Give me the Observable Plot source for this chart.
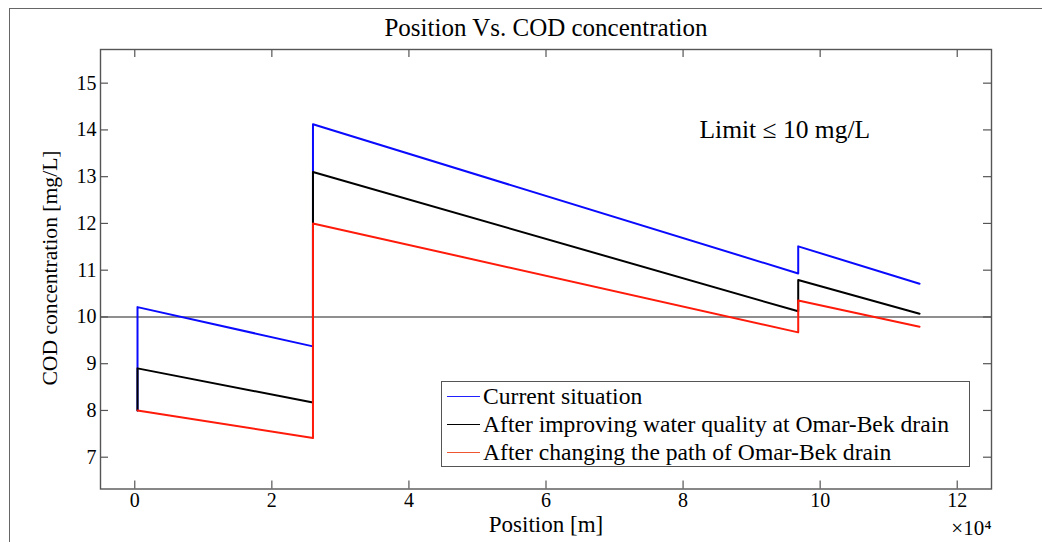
<!DOCTYPE html>
<html>
<head>
<meta charset="utf-8">
<script src="https://cdn.jsdelivr.net/npm/d3@7"></script>
<script src="https://cdn.jsdelivr.net/npm/@observablehq/plot@0.6"></script>
<style>
  html, body { margin: 0; padding: 0; background: #fff; }
  #fig { position: relative; width: 1042px; height: 542px; overflow: hidden; font-family: "Liberation Serif", "Times New Roman", serif; color: #000; }
  #border { position: absolute; left: 9px; top: 8px; right: -10px; bottom: -10px; border-left: 1.5px solid #666; border-top: 1.5px solid #666; pointer-events: none; }
  #title { height: 40px; line-height: 55px; text-align: center; font-size: 25px; padding-left: 50px; }
  #ylabel { position: absolute; left: 50px; top: 268px; transform: translate(-50%, -50%) rotate(-90deg); white-space: nowrap; font-size: 21.6px; }
  #legend { position: absolute; left: 441px; top: 381px; width: 529px; height: 86px; border: 1.3px solid #555; background: #fff; box-sizing: border-box; font-size: 23.6px; }
  #legend .row { display: flex; align-items: center; height: 28.3px; white-space: nowrap; }
  #legend .swatch { width: 33px; height: 0; border-top: 1.6px solid; margin-left: 5px; margin-right: 3px; flex: none; }
</style>
</head>
<body>
<div id="fig">
  <div id="title">Position Vs. COD concentration</div>
  <div id="chart"></div>
  <div id="ylabel">COD concentration [mg/L]</div>
  <div id="legend"></div>
  <div id="border"></div>
</div>
<script>
// Position along the drain [m] where each profile changes
const position = [400, 400, 26000, 26000, 96800, 96800, 114500];

// COD concentration [mg/L] for each scenario at those positions
const currentSituation = [8.00, 10.21, 9.37, 14.12, 10.93, 11.51, 10.71];
const improvedQuality  = [8.00, 8.90, 8.17, 13.10, 10.12, 10.79, 10.07];
const changedPath      = [8.00, 8.00, 7.41, 12.00, 9.67, 10.35, 9.79];

const seriesNames = [
  "Current situation",
  "After improving water quality at Omar-Bek drain",
  "After changing the path of Omar-Bek drain"
];
const seriesColors = ["#0a0aff", "#000000", "#ff1a0a"];
const legendColors = ["#2020ff", "#000000", "#ee5530"];

const limit = 10;
const xTicks = [0, 20000, 40000, 60000, 80000, 100000, 120000];
const yTicks = [7, 8, 9, 10, 11, 12, 13, 14, 15];

const seriesValues = [currentSituation, improvedQuality, changedPath];
const rows = seriesValues.map(vals => position.map((x, i) => ({x, y: vals[i]})));

const W = 1042, H = 502;
const mTop = 9, mBottom = 53.5, mLeft = 100, mRight = 51;
const innerH = H - mTop - mBottom;
const innerW = W - mLeft - mRight;
const tickLen = 8;
const axisGray = "#555";

const chart = Plot.plot({
  width: W,
  height: H,
  marginTop: mTop,
  marginBottom: mBottom,
  marginLeft: mLeft,
  marginRight: mRight,
  style: {fontFamily: "Liberation Serif, Times New Roman, serif", fontSize: "20px", color: "#000", background: "transparent"},
  x: {domain: [-5000, 125000]},
  y: {domain: [6.32, 15.72]},
  marks: [
    // limit line
    Plot.ruleY([limit], {stroke: "#6a6a6a", strokeWidth: 1.6}),
    // scenario profiles
    ...rows.map((data, k) => Plot.line(data, {x: "x", y: "y", stroke: seriesColors[k], strokeWidth: 2})),
    // inward ticks on all four sides
    Plot.tickX(xTicks, {x: d => d, insetTop: innerH - tickLen, stroke: axisGray, strokeWidth: 1.2}),
    Plot.tickX(xTicks, {x: d => d, insetBottom: innerH - tickLen, stroke: axisGray, strokeWidth: 1.2}),
    Plot.tickY(yTicks, {y: d => d, insetRight: innerW - tickLen, stroke: axisGray, strokeWidth: 1.2}),
    Plot.tickY(yTicks, {y: d => d, insetLeft: innerW - tickLen, stroke: axisGray, strokeWidth: 1.2}),
    Plot.axisX(xTicks, {tickSize: 0, tickPadding: 4, tickFormat: d => String(d / 1e4), label: null, fontSize: 20}),
    Plot.axisY(yTicks, {tickSize: 0, tickPadding: 4, label: null, fontSize: 20}),
    Plot.frame({stroke: axisGray, strokeWidth: 1.4}),
    // x axis title and exponent
    Plot.text(["Position [m]"], {frameAnchor: "bottom", dy: 36, fontSize: 23, lineAnchor: "middle"}),
    Plot.text(["×10⁴"], {frameAnchor: "bottom-right", textAnchor: "end", dy: 39, fontSize: 21, lineAnchor: "middle"}),
    // limit annotation
    Plot.text(["Limit ≤ 10 mg/L"], {x: 82400, y: 14.0, textAnchor: "start", fontSize: 25.5, lineAnchor: "middle"})
  ]
});
document.getElementById("chart").appendChild(chart);

// legend box
const legend = d3.select("#legend");
seriesNames.forEach((name, k) => {
  const row = legend.append("div").attr("class", "row");
  row.append("div").attr("class", "swatch").style("border-top-color", legendColors[k]);
  row.append("span").text(name);
});
</script>
</body>
</html>
